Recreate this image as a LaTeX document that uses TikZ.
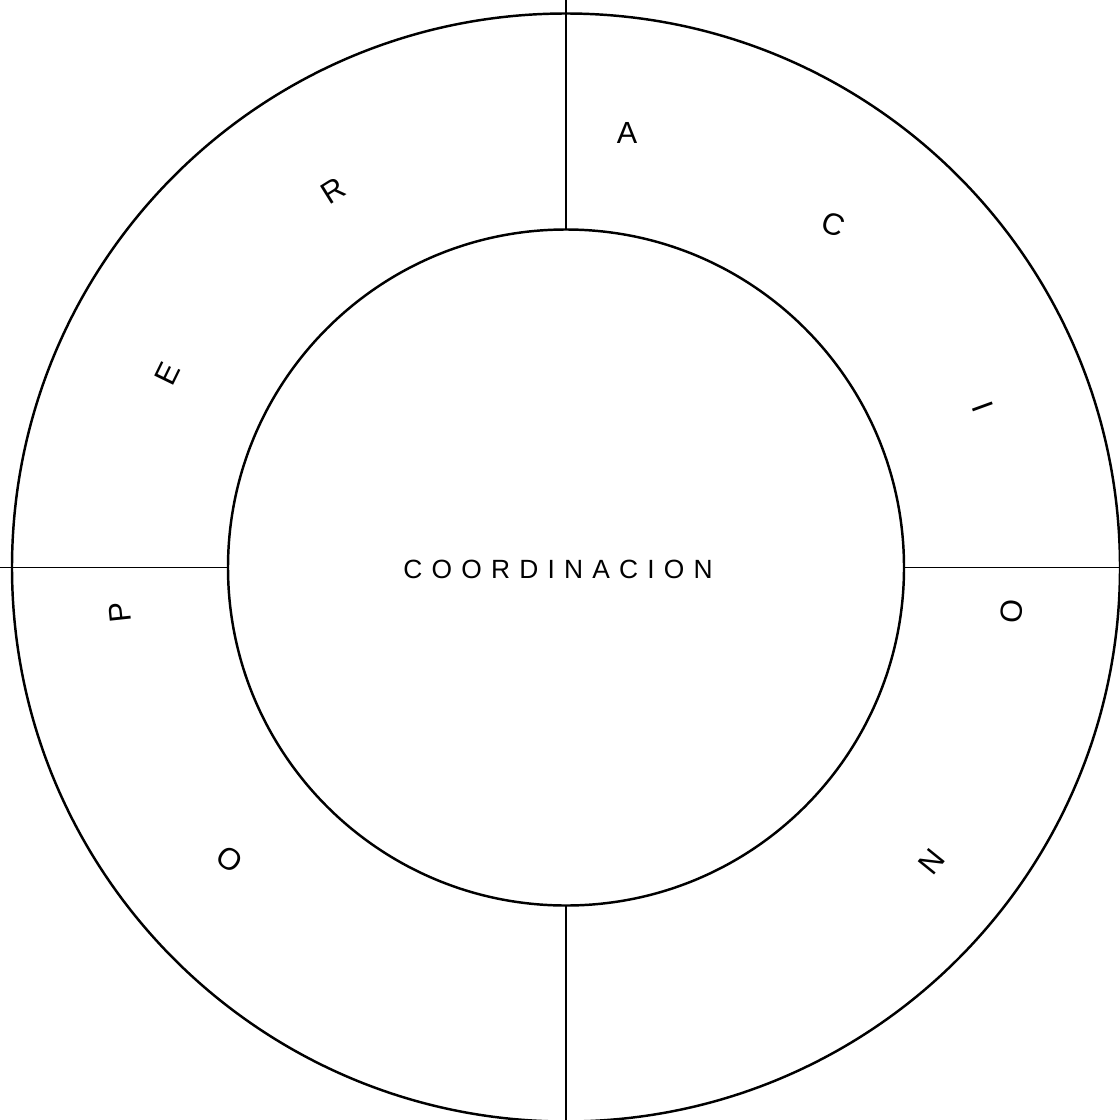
\documentclass[tikz,border=0pt]{standalone}
\usepackage{fontspec}
\setmainfont{Liberation Sans}
\usetikzlibrary{calc}

\tikzset{
  ringline/.style={line width=0.7pt},
  divline/.style={line width=0.45pt},
  ringletter/.style={font=\fontsize{8.7}{10}\selectfont, inner sep=0pt},
}

\begin{document}
\begin{tikzpicture}
    \useasboundingbox (0,0) rectangle (11.19,-11.20);
    % Centre of the rings
    \coordinate (ctr) at (5.66,-5.675);
    % Rings
    \draw[ringline] (ctr) circle (5.54);
    \draw[ringline] (ctr) circle (3.38);
    % Points where the dividers meet the rings
    \path (ctr) ++(90:3.38) coordinate (inN) ++(90:2.3) coordinate (outN);
    \path (ctr) ++(270:3.38) coordinate (inS) ++(270:2.3) coordinate (outS);
    \path (ctr) ++(180:3.38) coordinate (inW) ++(180:2.3) coordinate (outW);
    \path (ctr) ++(0:3.38) coordinate (inE) ++(0:2.3) coordinate (outE);
    % Dividers
    \draw[divline] (inN) -- (outN);
    \draw[divline] (inS) -- (outS);
    \draw[divline] (inW) -- (outW);
    \draw[divline] (inE) -- (outE);
    % Centre text
    \node[font=\fontsize{7.5}{9}\selectfont\addfontfeature{LetterSpace=35}, inner sep=0pt]
        (coord) at ($(ctr)+(-0.08,-0.02)$) {COORDINACION};
    % Letters round the ring
    \node[ringletter, rotate=145] (o1) at ($(ctr)+(221:4.45)$) {O};
    \node[ringletter, rotate=96] (p) at ($(ctr)+(185.8:4.48)$) {P};
    \node[ringletter, rotate=64] (e) at ($(ctr)+(154:4.43)$) {E};
    \node[ringletter, rotate=32] (r) at ($(ctr)+(121.7:4.43)$) {R};
    \node[ringletter] (a) at ($(ctr)+(82:4.39)$) {A};
    \node[ringletter, rotate=-20] (c) at ($(ctr)+(52:4.35)$) {C};
    \node[ringletter, rotate=-70] (i) at ($(ctr)+(21:4.47)$) {I};
    \node[ringletter, rotate=-96] (o2) at ($(ctr)+(-5.6:4.48)$) {O};
    \node[ringletter, rotate=-129] (n) at ($(ctr)+(-38.8:4.69)$) {N};
\end{tikzpicture}
\end{document}
